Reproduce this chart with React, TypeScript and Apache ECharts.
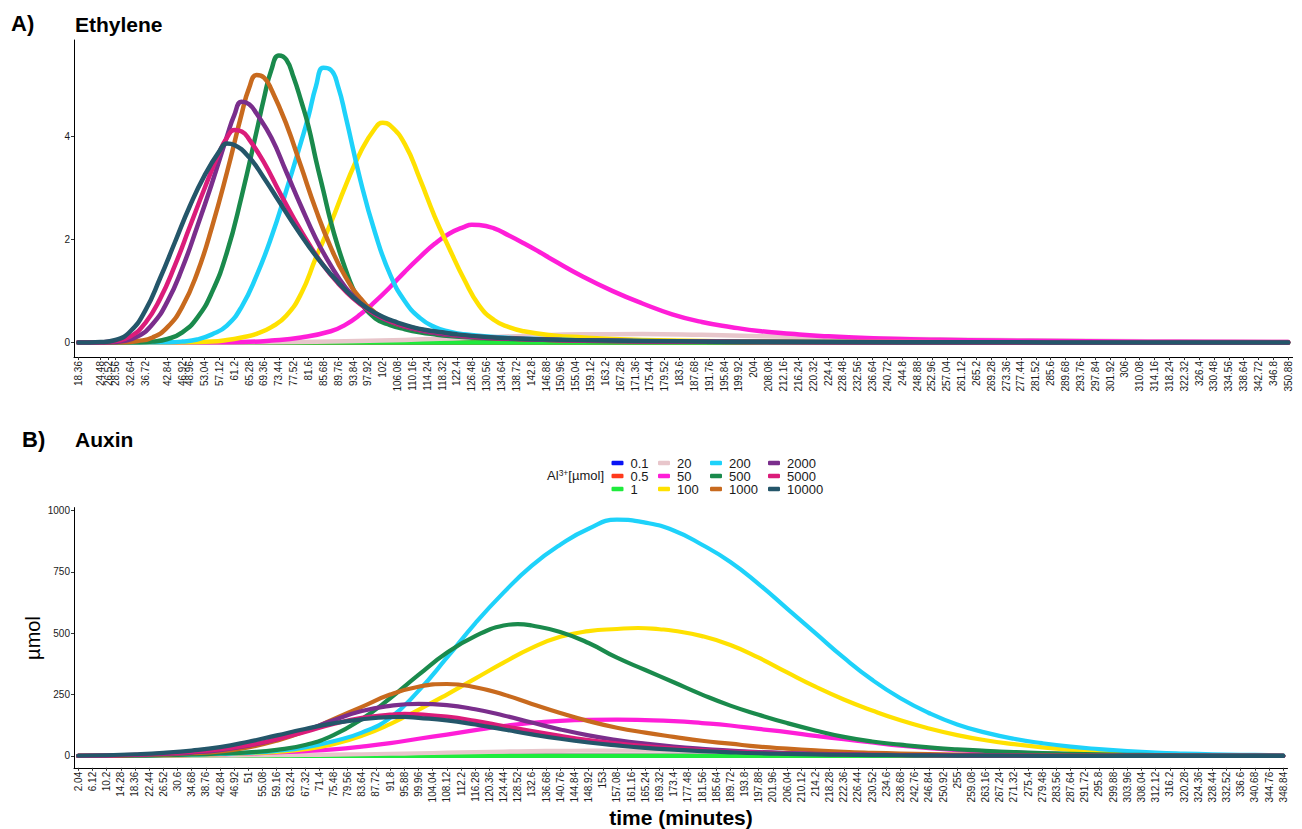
import React, { useEffect, useRef } from "react";
import * as echarts from "echarts";

const FONT = '"Liberation Sans", Arial, Helvetica, sans-serif';

// ---- Panel A: ethylene, tick breaks on the time axis (minutes)
const ethyleneTicks = [18.36, 24.48, 26.52, 28.56, 32.64, 36.72, 42.84, 46.92, 48.96, 53.04, 57.12, 61.2, 65.28, 69.36, 73.44, 77.52, 81.6, 85.68, 89.76, 93.84, 97.92, 102, 106.08, 110.16, 114.24, 118.32, 122.4, 126.48, 130.56, 134.64, 138.72, 142.8, 146.88, 150.96, 155.04, 159.12, 163.2, 167.28, 171.36, 175.44, 179.52, 183.6, 187.68, 191.76, 195.84, 199.92, 204, 208.08, 212.16, 216.24, 220.32, 224.4, 228.48, 232.56, 236.64, 240.72, 244.8, 248.88, 252.96, 257.04, 261.12, 265.2, 269.28, 273.36, 277.44, 281.52, 285.6, 289.68, 293.76, 297.84, 301.92, 306, 310.08, 314.16, 318.24, 322.32, 326.4, 330.48, 334.56, 338.64, 342.72, 346.8, 350.88];
const ethyleneYTicks = [0, 2, 4];

// ethylene curves as [time, value] pairs, one list per Al3+ dose
const eth01 = [[18.36, 0], [350.88, 0]];
const eth05 = [[18.36, 0], [350.88, 0]];
const eth1 = [[18.36, 0], [350.88, 0]];
const eth20 = [[18.36, 0], [59.16, 0.003], [75.48, 0.01], [91.8, 0.025], [108.12, 0.05], [124.44, 0.09], [140.76, 0.13], [157.08, 0.16], [173.4, 0.165], [189.72, 0.15], [206.04, 0.125], [222.36, 0.1], [238.68, 0.08], [255, 0.065], [271.32, 0.05], [287.64, 0.04], [303.96, 0.032], [320.28, 0.025], [336.6, 0.02], [350.88, 0.016]];
const eth50 = [[18.36, 0], [55.08, 0.005], [63.24, 0.01], [71.4, 0.04], [79.56, 0.1], [87.72, 0.22], [91.8, 0.35], [95.88, 0.55], [99.96, 0.8], [104.04, 1.08], [108.12, 1.38], [112.2, 1.66], [116.28, 1.92], [120.36, 2.12], [124.44, 2.25], [126.48, 2.29], [128.52, 2.285], [132.6, 2.22], [136.68, 2.08], [140.76, 1.93], [144.84, 1.77], [148.92, 1.6], [157.08, 1.28], [165.24, 1.0], [173.4, 0.76], [181.56, 0.55], [189.72, 0.4], [197.88, 0.3], [206.04, 0.22], [214.2, 0.17], [222.36, 0.13], [238.68, 0.08], [255, 0.055], [271.32, 0.04], [287.64, 0.03], [303.96, 0.02], [320.28, 0.015], [350.88, 0.01]];
const eth100 = [[18.36, 0], [46.92, 0.005], [55.08, 0.02], [59.16, 0.05], [63.24, 0.1], [67.32, 0.17], [71.4, 0.3], [75.48, 0.52], [79.56, 0.95], [83.64, 1.65], [87.72, 2.32], [91.8, 3.05], [95.88, 3.7], [99.96, 4.17], [102, 4.27], [104.04, 4.22], [108.12, 3.85], [112.2, 3.18], [116.28, 2.45], [120.36, 1.82], [124.44, 1.22], [128.52, 0.72], [132.6, 0.44], [136.68, 0.3], [140.76, 0.22], [148.92, 0.14], [157.08, 0.1], [165.24, 0.07], [181.56, 0.04], [206.04, 0.02], [238.68, 0.01], [287.64, 0.005], [350.88, 0.002]];
const eth200 = [[18.36, 0], [42.84, 0.005], [46.92, 0.02], [51, 0.06], [55.08, 0.16], [59.16, 0.33], [63.24, 0.7], [67.32, 1.3], [71.4, 2.05], [75.48, 2.95], [79.56, 3.9], [81.6, 4.4], [83.64, 4.98], [85.68, 5.34], [87.72, 5.3], [89.76, 4.97], [91.8, 4.4], [95.88, 3.15], [99.96, 2.12], [104.04, 1.32], [108.12, 0.8], [112.2, 0.48], [116.28, 0.3], [120.36, 0.21], [124.44, 0.16], [132.6, 0.11], [140.76, 0.08], [148.92, 0.06], [165.24, 0.035], [189.72, 0.02], [214.2, 0.012], [255, 0.006], [350.88, 0.002]];
const eth500 = [[18.36, 0], [34.68, 0.005], [38.76, 0.02], [42.84, 0.07], [46.92, 0.2], [51, 0.48], [55.08, 0.98], [59.16, 1.75], [63.24, 2.85], [67.32, 4.1], [69.36, 4.75], [71.4, 5.3], [73.44, 5.58], [75.48, 5.5], [77.52, 5.15], [79.56, 4.7], [81.6, 4.2], [83.64, 3.55], [85.68, 2.95], [87.72, 2.35], [89.76, 1.85], [91.8, 1.42], [93.84, 1.05], [95.88, 0.78], [99.96, 0.47], [104.04, 0.34], [108.12, 0.26], [112.2, 0.2], [116.28, 0.16], [120.36, 0.13], [128.52, 0.09], [136.68, 0.07], [148.92, 0.05], [165.24, 0.03], [189.72, 0.018], [214.2, 0.01], [255, 0.005], [350.88, 0.001]];
const eth1000 = [[18.36, 0], [30.6, 0.005], [34.68, 0.03], [38.76, 0.1], [42.84, 0.3], [46.92, 0.7], [51, 1.35], [55.08, 2.25], [59.16, 3.3], [63.24, 4.45], [65.28, 4.95], [67.32, 5.2], [69.36, 5.15], [71.4, 4.92], [75.48, 4.25], [79.56, 3.42], [83.64, 2.58], [87.72, 1.85], [91.8, 1.27], [95.88, 0.86], [99.96, 0.58], [104.04, 0.41], [108.12, 0.31], [112.2, 0.24], [116.28, 0.19], [120.36, 0.15], [128.52, 0.1], [136.68, 0.075], [148.92, 0.05], [165.24, 0.03], [189.72, 0.018], [214.2, 0.01], [255, 0.005], [350.88, 0.001]];
const eth2000 = [[18.36, 0], [26.52, 0.005], [30.6, 0.03], [34.68, 0.12], [38.76, 0.36], [42.84, 0.8], [46.92, 1.45], [51, 2.25], [55.08, 3.1], [59.16, 4.0], [61.2, 4.42], [63.24, 4.68], [65.28, 4.63], [67.32, 4.45], [71.4, 3.98], [75.48, 3.32], [79.56, 2.65], [83.64, 2.02], [87.72, 1.5], [91.8, 1.07], [95.88, 0.76], [99.96, 0.55], [104.04, 0.41], [108.12, 0.31], [112.2, 0.24], [116.28, 0.19], [120.36, 0.15], [128.52, 0.1], [136.68, 0.075], [148.92, 0.05], [165.24, 0.03], [189.72, 0.018], [214.2, 0.01], [255, 0.005], [350.88, 0.001]];
const eth5000 = [[18.36, 0], [24.48, 0.005], [28.56, 0.03], [32.64, 0.12], [36.72, 0.38], [40.8, 0.85], [44.88, 1.5], [48.96, 2.25], [53.04, 3.0], [57.12, 3.7], [59.16, 3.98], [61.2, 4.13], [63.24, 4.1], [65.28, 3.95], [69.36, 3.5], [73.44, 2.95], [77.52, 2.42], [81.6, 1.93], [85.68, 1.5], [89.76, 1.15], [93.84, 0.86], [97.92, 0.64], [102, 0.48], [106.08, 0.37], [110.16, 0.29], [114.24, 0.23], [118.32, 0.19], [122.4, 0.15], [130.56, 0.1], [138.72, 0.075], [146.88, 0.055], [163.2, 0.035], [183.6, 0.02], [204, 0.012], [244.8, 0.006], [285.6, 0.003], [350.88, 0.001]];
const eth10000 = [[18.36, 0], [24.48, 0.01], [28.56, 0.05], [32.64, 0.22], [36.72, 0.62], [40.8, 1.25], [44.88, 1.95], [48.96, 2.65], [53.04, 3.25], [57.12, 3.72], [59.16, 3.87], [61.2, 3.84], [65.28, 3.6], [69.36, 3.2], [73.44, 2.75], [77.52, 2.3], [81.6, 1.88], [85.68, 1.5], [89.76, 1.17], [93.84, 0.88], [97.92, 0.66], [102, 0.5], [106.08, 0.39], [110.16, 0.3], [114.24, 0.24], [118.32, 0.2], [122.4, 0.16], [130.56, 0.11], [138.72, 0.08], [146.88, 0.06], [163.2, 0.04], [183.6, 0.025], [204, 0.015], [244.8, 0.008], [285.6, 0.004], [350.88, 0.002]];

// ---- Panel B: auxin, tick breaks on the time axis (minutes)
const auxinTicks = [2.04, 6.12, 10.2, 14.28, 18.36, 22.44, 26.52, 30.6, 34.68, 38.76, 42.84, 46.92, 51, 55.08, 59.16, 63.24, 67.32, 71.4, 75.48, 79.56, 83.64, 87.72, 91.8, 95.88, 99.96, 104.04, 108.12, 112.2, 116.28, 120.36, 124.44, 128.52, 132.6, 136.68, 140.76, 144.84, 148.92, 153, 157.08, 161.16, 165.24, 169.32, 173.4, 177.48, 181.56, 185.64, 189.72, 193.8, 197.88, 201.96, 206.04, 210.12, 214.2, 218.28, 222.36, 226.44, 230.52, 234.6, 238.68, 242.76, 246.84, 250.92, 255, 259.08, 263.16, 267.24, 271.32, 275.4, 279.48, 283.56, 287.64, 291.72, 295.8, 299.88, 303.96, 308.04, 312.12, 316.2, 320.28, 324.36, 328.44, 332.52, 336.6, 340.68, 344.76, 348.84];
const auxinYTicks = [0, 250, 500, 750, 1000];

// auxin curves as [time, value] pairs (µmol)
const aux01 = [[2.04, 0], [348.84, 0]];
const aux05 = [[2.04, 0], [348.84, 0]];
const aux1 = [[2.04, 0], [348.84, 0]];
const aux20 = [[2.04, 0], [10.2, 0.2], [18.36, 0.5], [26.52, 0.8], [34.68, 1], [42.84, 1.5], [51, 2], [59.16, 3], [67.32, 4], [75.48, 5.5], [83.64, 7], [91.8, 9], [99.96, 11], [108.12, 13.5], [116.28, 16], [124.44, 18], [132.6, 20], [140.76, 21], [148.92, 21.6], [157.08, 22], [165.24, 21.6], [173.4, 21], [181.56, 20], [189.72, 18], [197.88, 16], [206.04, 14], [214.2, 12], [222.36, 10], [230.52, 8], [238.68, 6.5], [246.84, 5], [255, 4], [263.16, 3.5], [271.32, 3], [279.48, 2.5], [287.64, 2], [295.8, 1.5], [303.96, 1.2], [312.12, 1], [320.28, 0.8], [328.44, 0.6], [336.6, 0.5], [344.76, 0.4], [348.84, 0.4]];
const aux50 = [[2.04, 0], [10.2, 0.5], [18.36, 1], [26.52, 2], [34.68, 4], [42.84, 7], [51, 10], [59.16, 15], [67.32, 20], [75.48, 27], [83.64, 38], [91.8, 52], [99.96, 70], [108.12, 87], [116.28, 105], [124.44, 122], [132.6, 135], [140.76, 143], [148.92, 147], [157.08, 148], [165.24, 146], [173.4, 142], [181.56, 134], [189.72, 124], [197.88, 110], [206.04, 97], [214.2, 82], [222.36, 68], [230.52, 55], [238.68, 42], [246.84, 32], [255, 24], [263.16, 18], [271.32, 14], [279.48, 10], [287.64, 7], [295.8, 5], [303.96, 4], [312.12, 3], [320.28, 2], [328.44, 1.5], [336.6, 1], [348.84, 1]];
const aux100 = [[2.04, 0], [10.2, 0.5], [18.36, 1], [26.52, 2], [34.68, 4], [42.84, 7], [51, 11], [59.16, 17], [67.32, 28], [75.48, 48], [83.64, 82], [91.8, 130], [99.96, 188], [108.12, 250], [116.28, 315], [124.44, 380], [132.6, 440], [140.76, 485], [148.92, 508], [157.08, 517], [163.2, 521], [169.32, 516], [173.4, 510], [181.56, 488], [189.72, 452], [197.88, 400], [206.04, 340], [214.2, 282], [222.36, 230], [230.52, 185], [238.68, 145], [246.84, 112], [255, 85], [263.16, 64], [271.32, 48], [279.48, 35], [287.64, 25], [295.8, 18], [303.96, 13], [312.12, 9], [320.28, 6], [328.44, 4], [336.6, 3], [344.76, 2], [348.84, 2]];
const aux200 = [[2.04, 0], [10.2, 0.5], [18.36, 1.5], [26.52, 3], [34.68, 5], [42.84, 8], [51, 13], [59.16, 21], [67.32, 35], [75.48, 60], [83.64, 95], [91.8, 155], [99.96, 265], [108.12, 400], [116.28, 540], [124.44, 665], [132.6, 775], [140.76, 860], [148.92, 925], [157.08, 962], [165.24, 950], [173.4, 918], [181.56, 860], [189.72, 790], [197.88, 700], [206.04, 600], [214.2, 500], [222.36, 400], [230.52, 310], [238.68, 235], [246.84, 175], [255, 128], [263.16, 95], [271.32, 70], [279.48, 52], [287.64, 38], [295.8, 28], [303.96, 20], [312.12, 14], [320.28, 10], [328.44, 7], [336.6, 5], [344.76, 4], [348.84, 3]];
const aux500 = [[2.04, 0], [10.2, 0.5], [18.36, 1], [26.52, 3], [34.68, 6], [42.84, 10], [51, 15], [59.16, 25], [67.32, 45], [75.48, 85], [83.64, 150], [91.8, 235], [99.96, 330], [108.12, 420], [116.28, 488], [124.44, 531], [128.52, 537], [132.6, 531], [140.76, 505], [148.92, 460], [157.08, 400], [165.24, 350], [173.4, 300], [181.56, 250], [189.72, 205], [197.88, 168], [206.04, 134], [214.2, 104], [222.36, 78], [230.52, 59], [238.68, 46], [246.84, 35], [255, 27], [263.16, 21], [271.32, 16], [279.48, 12], [287.64, 9], [295.8, 7], [303.96, 5], [312.12, 4], [320.28, 3], [328.44, 2], [336.6, 1.5], [348.84, 1]];
const aux1000 = [[2.04, 0], [10.2, 1], [18.36, 3], [26.52, 6], [34.68, 11], [42.84, 19], [51, 35], [59.16, 62], [67.32, 100], [75.48, 150], [83.64, 200], [91.8, 250], [99.96, 282], [108.12, 293], [116.28, 280], [124.44, 250], [132.6, 212], [140.76, 175], [148.92, 142], [157.08, 115], [165.24, 95], [173.4, 78], [181.56, 62], [189.72, 50], [197.88, 38], [206.04, 30], [214.2, 23], [222.36, 17], [230.52, 13], [238.68, 10], [246.84, 8], [255, 6], [263.16, 4], [271.32, 3], [279.48, 2.5], [287.64, 2], [295.8, 1.5], [303.96, 1], [320.28, 0.7], [348.84, 0.5]];
const aux2000 = [[2.04, 0], [10.2, 1.5], [18.36, 4], [26.52, 8], [34.68, 14], [42.84, 24], [51, 42], [59.16, 68], [67.32, 104], [75.48, 145], [83.64, 183], [91.8, 204], [99.96, 212], [108.12, 207], [116.28, 190], [124.44, 165], [132.6, 136], [140.76, 108], [148.92, 84], [157.08, 65], [165.24, 50], [173.4, 38], [181.56, 29], [189.72, 22], [197.88, 16], [206.04, 12], [214.2, 9], [222.36, 7], [230.52, 5], [238.68, 4], [246.84, 3], [255, 2], [263.16, 1.5], [271.32, 1.2], [279.48, 1], [295.8, 0.6], [320.28, 0.4], [348.84, 0.3]];
const aux5000 = [[2.04, 0], [10.2, 2], [18.36, 5], [26.52, 10], [34.68, 17], [42.84, 27], [51, 44], [59.16, 68], [67.32, 98], [75.48, 130], [83.64, 155], [91.8, 168], [95.88, 172], [99.96, 169], [108.12, 160], [116.28, 143], [124.44, 122], [132.6, 101], [140.76, 82], [148.92, 65], [157.08, 51], [165.24, 40], [173.4, 31], [181.56, 24], [189.72, 18], [197.88, 14], [206.04, 10], [214.2, 8], [222.36, 6], [230.52, 4.5], [238.68, 3.5], [246.84, 2.5], [255, 2], [263.16, 1.5], [271.32, 1], [287.64, 0.6], [312.12, 0.3], [348.84, 0.2]];
const aux10000 = [[2.04, 1], [10.2, 3], [18.36, 7], [26.52, 13], [34.68, 22], [42.84, 36], [51, 58], [59.16, 84], [67.32, 110], [75.48, 133], [83.64, 149], [91.8, 158], [95.88, 159], [99.96, 155], [108.12, 145], [116.28, 128], [124.44, 108], [132.6, 88], [140.76, 70], [148.92, 55], [157.08, 43], [165.24, 33], [173.4, 26], [181.56, 20], [189.72, 15], [197.88, 11], [206.04, 8.5], [214.2, 6.5], [222.36, 5], [230.52, 3.8], [238.68, 3], [246.84, 2.3], [255, 1.8], [263.16, 1.4], [271.32, 1], [287.64, 0.6], [312.12, 0.3], [348.84, 0.2]];

// Al3+ doses (µmol) and their colours
const doses = ["0.1", "0.5", "1", "20", "50", "100", "200", "500", "1000", "2000", "5000", "10000"];
const doseColors = ["#0A14F5", "#FF3A1C", "#1EEB3C", "#E8C6CB", "#FF1ED8", "#FFE100", "#1ED2FA", "#1A8A4C", "#C86A1E", "#7A2E8C", "#DB1C7A", "#24566A"];
const ethyleneSeries = [eth01, eth05, eth1, eth20, eth50, eth100, eth200, eth500, eth1000, eth2000, eth5000, eth10000];
const auxinSeries = [aux01, aux05, aux1, aux20, aux50, aux100, aux200, aux500, aux1000, aux2000, aux5000, aux10000];

const axisText = { color: "#1a1a1a", fontSize: 10, fontFamily: FONT };

function timeAxis(gridIndex: number, min: number, max: number, ticks: number[]) {
  return {
    gridIndex,
    type: "value",
    min,
    max,
    axisLine: { show: true, onZero: false, lineStyle: { color: "#000", width: 1 } },
    axisTick: { show: true, customValues: ticks, length: 3, lineStyle: { color: "#333" } },
    axisLabel: {
      ...axisText,
      customValues: ticks,
      rotate: 90,
      margin: 4,
      hideOverlap: false,
      formatter: (v: number) => String(v),
    },
    splitLine: { show: false },
  };
}

function valueAxis(gridIndex: number, min: number, max: number, ticks: number[]) {
  return {
    gridIndex,
    type: "value",
    min,
    max,
    axisLine: { show: true, onZero: false, lineStyle: { color: "#000", width: 1 } },
    axisTick: { show: true, customValues: ticks, length: 3, lineStyle: { color: "#333" } },
    axisLabel: { ...axisText, customValues: ticks, margin: 4, formatter: (v: number) => String(v) },
    splitLine: { show: false },
  };
}

function lineSeries(name: string, color: string, axis: number, data: number[][], width: number) {
  return {
    type: "line",
    name,
    xAxisIndex: axis,
    yAxisIndex: axis,
    data,
    showSymbol: false,
    smooth: 0.5,
    silent: true,
    color,
    itemStyle: { color },
    lineStyle: { color, width, cap: "round", join: "round" },
    emphasis: { disabled: true },
  };
}

function legendColumn(names: string[], left: number) {
  return {
    data: names,
    orient: "vertical",
    left,
    top: 456.5,
    padding: 0,
    itemGap: 0,
    itemWidth: 12,
    itemHeight: 4.5,
    icon: "roundRect",
    selectedMode: false,
    textStyle: { color: "#1a1a1a", fontSize: 13, lineHeight: 12.6, fontFamily: FONT, padding: [0, 0, 0, 2] },
  };
}

function text(t: string, x: number, y: number, font: string, extra: Record<string, unknown> = {}) {
  return {
    type: "text",
    x,
    y,
    silent: true,
    ...extra,
    style: { text: t, font, fill: "#000", textAlign: "left", textVerticalAlign: "middle", ...((extra as any).style || {}) },
  };
}

export default function App() {
  const ref = useRef<HTMLDivElement>(null);

  useEffect(() => {
    if (!ref.current) return;
    const chart = echarts.init(ref.current, null, { renderer: "svg" });

    const series: any[] = [];
    doses.forEach((d, i) => series.push(lineSeries(d, doseColors[i], 0, ethyleneSeries[i], 4.5)));
    doses.forEach((d, i) => series.push(lineSeries(d, doseColors[i], 1, auxinSeries[i], 4.2)));

    chart.setOption({
      animation: false,
      backgroundColor: "#fff",
      grid: [
        { left: 74, right: 9.4, top: 40, height: 317 },
        { left: 74, right: 14.5, top: 507.6, height: 260.2 },
      ],
      xAxis: [timeAxis(0, 17.14, 352.1, ethyleneTicks), timeAxis(1, 0.82, 350.06, auxinTicks)],
      yAxis: [valueAxis(0, -0.28, 5.88, ethyleneYTicks), valueAxis(1, -48.15, 1011.2, auxinYTicks)],
      legend: [
        legendColumn(doses.slice(0, 3), 611.5),
        legendColumn(doses.slice(3, 6), 658),
        legendColumn(doses.slice(6, 9), 710),
        legendColumn(doses.slice(9, 12), 768),
      ],
      graphic: [
        text("A)", 11, 23, `bold 22px ${FONT}`),
        text("Ethylene", 75, 24, `bold 21px ${FONT}`),
        text("B)", 22, 439, `bold 22px ${FONT}`),
        text("Auxin", 75, 439, `bold 21px ${FONT}`),
        {
          type: "text",
          x: 604,
          y: 475,
          silent: true,
          style: {
            text: "{b|Al}{s|3+}{b|[µmol]}",
            textAlign: "right",
            textVerticalAlign: "middle",
            fill: "#1a1a1a",
            rich: {
              b: { fontSize: 13, fontFamily: FONT, lineHeight: 14, verticalAlign: "bottom", fill: "#1a1a1a" },
              s: { fontSize: 8.5, fontFamily: FONT, lineHeight: 14, verticalAlign: "top", fill: "#1a1a1a" },
            },
          },
        },
        text("µmol", 33, 638, `20px ${FONT}`, { rotation: Math.PI / 2, style: { textAlign: "center" } }),
        text("time (minutes)", 681, 817, `bold 21px ${FONT}`, { style: { textAlign: "center" } }),
      ],
      series,
    });

    return () => chart.dispose();
  }, []);

  return (
    <div
      ref={ref}
      style={{ position: "fixed", left: 0, top: 0, width: 1302, height: 829, background: "#fff" }}
    />
  );
}
